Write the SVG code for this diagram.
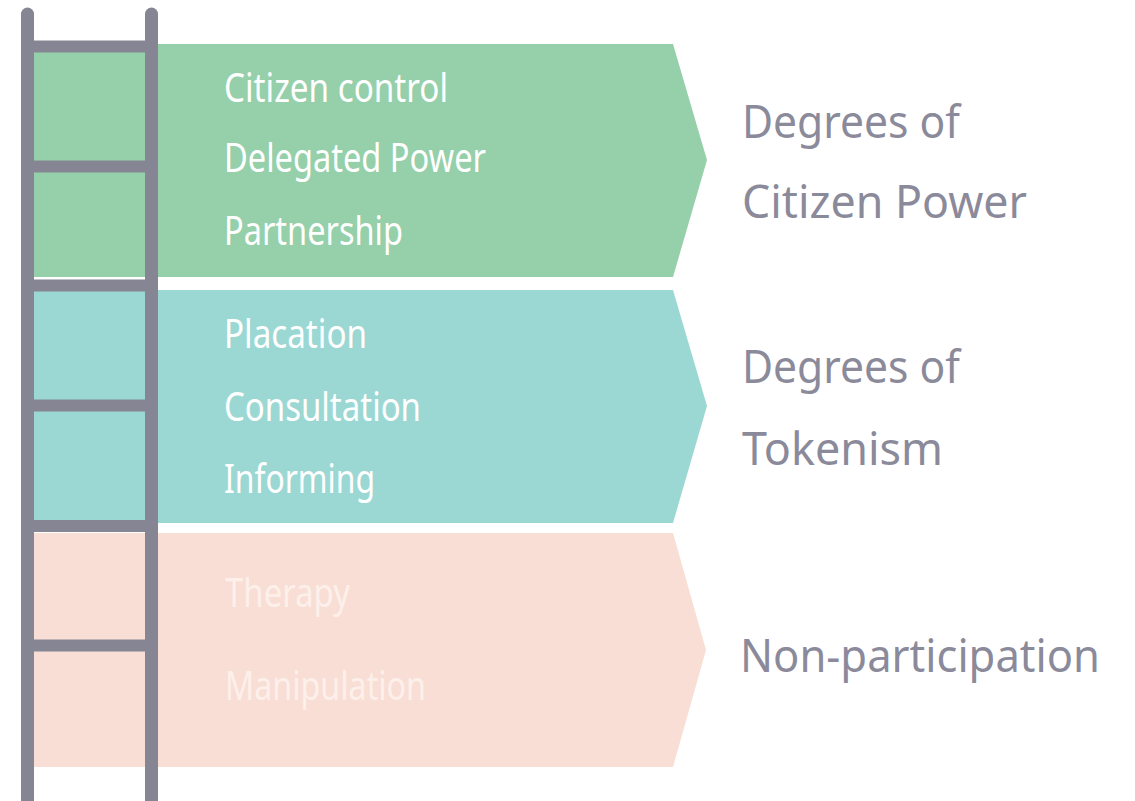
<svg xmlns="http://www.w3.org/2000/svg" width="1135" height="801" viewBox="0 0 1135 801">
<style>
.item{font-family:"Noto Sans","Open Sans",sans-serif;font-size:40px;fill:#ffffff}
.item.pale{fill:#fdf0eb}
.lbl{font-family:"Noto Sans","Open Sans",sans-serif;font-size:46px;fill:#8b8a9b}
.rail{stroke:#868593;stroke-width:13;stroke-linecap:round;fill:none}
.rung{stroke:#868593;stroke-width:12;fill:none}
</style>
<rect width="1135" height="801" fill="#ffffff"/>
<g id="band-citizen-power">
<polygon points="21,44 673,44 707,160 673,277 21,277" fill="#95d0ab"/>
<text class="item" x="224" y="102" textLength="224" lengthAdjust="spacingAndGlyphs">Citizen control</text>
<text class="item" x="224" y="172" textLength="262" lengthAdjust="spacingAndGlyphs">Delegated Power</text>
<text class="item" x="224" y="245" textLength="179" lengthAdjust="spacingAndGlyphs">Partnership</text>
<text class="lbl" x="742" y="138" textLength="218" lengthAdjust="spacingAndGlyphs">Degrees of</text>
<text class="lbl" x="742" y="218" textLength="285" lengthAdjust="spacingAndGlyphs">Citizen Power</text>
</g>
<g id="band-tokenism">
<polygon points="21,290 673,290 707,406 673,523 21,523" fill="#9bd8d3"/>
<text class="item" x="224" y="348" textLength="143" lengthAdjust="spacingAndGlyphs">Placation</text>
<text class="item" x="224" y="421" textLength="197" lengthAdjust="spacingAndGlyphs">Consultation</text>
<text class="item" x="224" y="493" textLength="151" lengthAdjust="spacingAndGlyphs">Informing</text>
<text class="lbl" x="742" y="383" textLength="218" lengthAdjust="spacingAndGlyphs">Degrees of</text>
<text class="lbl" x="742" y="465" textLength="201" lengthAdjust="spacingAndGlyphs">Tokenism</text>
</g>
<g id="band-non-participation">
<polygon points="21,533 673,533 706,650 673,767 21,767" fill="#f8ded5"/>
<text class="item pale" x="225" y="607" textLength="125" lengthAdjust="spacingAndGlyphs">Therapy</text>
<text class="item pale" x="225" y="700" textLength="201" lengthAdjust="spacingAndGlyphs">Manipulation</text>
<text class="lbl" x="740" y="672" textLength="360" lengthAdjust="spacingAndGlyphs">Non-participation</text>
</g>
<g id="ladder">
<line class="rail" x1="27.5" y1="14" x2="27.5" y2="815"/>
<line class="rail" x1="151.5" y1="14" x2="151.5" y2="815"/>
<line class="rung" x1="21" y1="46.5" x2="158" y2="46.5"/>
<line class="rung" x1="21" y1="166.5" x2="158" y2="166.5"/>
<line class="rung" x1="21" y1="285.5" x2="158" y2="285.5"/>
<line class="rung" x1="21" y1="405.5" x2="158" y2="405.5"/>
<line class="rung" x1="21" y1="526" x2="158" y2="526"/>
<line class="rung" x1="21" y1="645.5" x2="158" y2="645.5"/>
</g>
<g id="connectors"/>
</svg>
